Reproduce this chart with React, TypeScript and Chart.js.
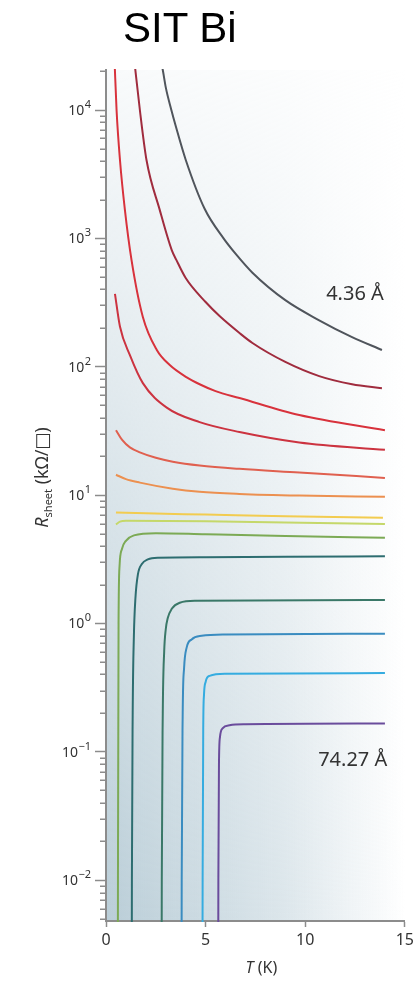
import React, { useEffect, useRef } from 'react';
import { Chart, registerables } from 'chart.js';

Chart.register(...registerables);

// ---- axis ticks ----
const xTickStep = 5;
const xMin = 0;
const xMax = 15;
const yMin = 0.0048;
const yMax = 20500;
const yMajorTicks = [0.01, 0.1, 1, 10, 100, 1000, 10000];
const yMajorBase = '10';
const yMajorExponents = ['−2', '−1', '0', '1', '2', '3', '4'];
const yMinorDecades = [0.001, 0.01, 0.1, 1, 10, 100, 1000, 10000];
const yMinorMultipliers = [2, 3, 4, 5, 6, 7, 8, 9];

// ---- series (T in K, R in kΩ/□) ----
const T1 = [2.7, 2.85, 3.0, 3.28, 3.5, 4.0, 4.95, 5.9, 6.5, 7.35, 9.0, 10.7, 12.35, 13.85];
const R1 = [26000, 20500, 15000, 10000, 7500, 4100, 1700, 1000, 760, 540, 330, 230, 170, 135];

const T2 = [1.4, 1.7, 2.03, 2.7, 3.3, 3.53, 4.0, 5.0, 5.7, 6.7, 7.35, 9.0, 10.7, 12.35, 13.85];
const R2 = [26000, 10000, 4100, 1660, 810, 680, 491, 319, 248, 183, 153, 109, 84.5, 73, 68];

const T3 = [0.43, 0.53, 0.7, 0.95, 1.28, 1.85, 2.55, 3.2, 4.03, 4.7, 5.5, 6.7, 9.7, 14];
const R3 = [24000, 10000, 4100, 1660, 680, 244, 135, 103, 83, 73, 64.5, 57, 42, 32];

const T4 = [0.45, 0.7, 1.2, 1.85, 3.05, 4.7, 6.7, 9.7, 14];
const R4 = [370, 206, 123, 74.5, 48, 37, 31, 25.7, 22.5];

const T5 = [0.5, 0.8, 1.2, 1.7, 2.5, 3.35, 4.7, 6.7, 9.7, 14];
const R5 = [32, 27, 23.5, 21.5, 19.5, 18.2, 17, 16, 15, 13.6];

const T6 = [0.5, 1.0, 1.7, 3.35, 4.7, 6.7, 9.7, 14];
const R6 = [14.4, 13.3, 12.5, 11.2, 10.6, 10.2, 9.9, 9.7];

const T7 = [0.5, 2, 5, 9, 13.9];
const R7 = [7.3, 7.2, 7.05, 6.85, 6.65];

const T8 = [0.5, 0.7, 1.0, 5, 9, 14];
const R8 = [5.9, 6.2, 6.3, 6.25, 6.1, 5.95];

const T9 = [0.58, 0.6, 0.63, 0.68, 0.8, 1.0, 1.4, 2.5, 5, 9, 14];
const R9 = [0.0001, 0.01, 1, 2.8, 3.8, 4.4, 4.85, 5.05, 4.95, 4.8, 4.64];

const T10 = [1.28, 1.3, 1.34, 1.4, 1.48, 1.6, 1.8, 2.1, 2.6, 5, 9, 14];
const R10 = [0.0001, 0.01, 0.2, 0.8, 1.6, 2.4, 2.9, 3.15, 3.25, 3.28, 3.3, 3.34];

const T11 = [2.78, 2.8, 2.85, 2.92, 3.0, 3.1, 3.3, 3.7, 4.5, 14];
const R11 = [0.0001, 0.01, 0.2, 0.6, 0.9, 1.1, 1.3, 1.45, 1.5, 1.52];

const T12 = [3.78, 3.8, 3.85, 3.92, 4.05, 4.3, 4.8, 6, 14];
const R12 = [0.0001, 0.01, 0.2, 0.45, 0.65, 0.75, 0.8, 0.82, 0.83];

const T13 = [4.83, 4.85, 4.88, 4.92, 5.0, 5.2, 6, 14];
const R13 = [0.0001, 0.01, 0.15, 0.28, 0.35, 0.39, 0.405, 0.41];

const T14 = [5.62, 5.64, 5.67, 5.72, 5.85, 6.2, 7, 14];
const R14 = [0.0001, 0.01, 0.08, 0.13, 0.152, 0.161, 0.164, 0.166];

const seriesT = [T1, T2, T3, T4, T5, T6, T7, T8, T9, T10, T11, T12, T13, T14];
const seriesR = [R1, R2, R3, R4, R5, R6, R7, R8, R9, R10, R11, R12, R13, R14];
const seriesColors = [
  '#50555c', '#a02c3e', '#d8323c', '#cc3340', '#e0604f', '#ec9050', '#f2cc50',
  '#c5d86a', '#7caa55', '#2d6d70', '#3a7868', '#3a8cc0', '#35ace0', '#6a4c9c',
];

// thickness labels
const annoTexts = ['4.36 Å', '74.27 Å'];
const annoT = [11.05, 10.65];
const annoR = [330, 0.0769];

const FONT = '"Noto Sans", "DejaVu Sans", sans-serif';

const isMajor = (v: number) =>
  yMajorTicks.some((m) => Math.abs(Math.log10(v) - Math.log10(m)) < 1e-6);

const bgPlugin = {
  id: 'bgGradient',
  beforeDraw(chart: any) {
    const { ctx, chartArea } = chart;
    const { left, top, right, bottom } = chartArea;
    ctx.save();
    const g = ctx.createLinearGradient(left, 0, right, 0);
    g.addColorStop(0, 'rgba(150,180,195,0.66)');
    g.addColorStop(0.6, 'rgba(150,180,195,0.33)');
    g.addColorStop(1, 'rgba(150,180,195,0)');
    ctx.fillStyle = g;
    ctx.fillRect(left, top, right - left, bottom - top);
    const v = ctx.createLinearGradient(0, top, 0, bottom);
    v.addColorStop(0, 'rgba(255,255,255,0.9)');
    v.addColorStop(0.5, 'rgba(255,255,255,0.45)');
    v.addColorStop(1, 'rgba(255,255,255,0)');
    ctx.fillStyle = v;
    ctx.fillRect(left, top, right - left, bottom - top);
    ctx.restore();
  },
};

const decorPlugin = {
  id: 'decor',
  afterDraw(chart: any) {
    const { ctx, chartArea } = chart;
    const xs = chart.scales.x;
    const ys = chart.scales.y;
    ctx.save();
    // minor y ticks
    ctx.strokeStyle = '#8c8c8c';
    ctx.lineWidth = 1.5;
    yMinorDecades.forEach((d) => {
      yMinorMultipliers.forEach((m) => {
        const v = d * m;
        if (v < yMin || v > yMax) return;
        const y = Math.round(ys.getPixelForValue(v)) + 0.25;
        ctx.beginPath();
        ctx.moveTo(chartArea.left - 6, y);
        ctx.lineTo(chartArea.left, y);
        ctx.stroke();
      });
    });

    // y tick labels: 10 with superscript exponent
    ctx.fillStyle = '#333';
    ctx.textBaseline = 'alphabetic';
    ctx.textAlign = 'left';
    const labelRight = chartArea.left - 15;
    yMajorTicks.forEach((m, i) => {
      if (m < yMin || m > yMax) return;
      const y = ys.getPixelForValue(m);
      ctx.font = `11px ${FONT}`;
      const we = ctx.measureText(yMajorExponents[i]).width;
      ctx.font = `14px ${FONT}`;
      const wb = ctx.measureText(yMajorBase).width;
      const xb = labelRight - we - wb - 0.5;
      ctx.fillText(yMajorBase, xb, y + 5);
      ctx.font = `11px ${FONT}`;
      ctx.fillText(yMajorExponents[i], xb + wb + 0.5, y - 2);
    });

    // annotations
    ctx.fillStyle = '#333';
    ctx.font = `20px ${FONT}`;
    annoTexts.forEach((t, i) => {
      ctx.fillText(t, xs.getPixelForValue(annoT[i]), ys.getPixelForValue(annoR[i]));
    });

    // x axis title: T (K)
    const cx = (chartArea.left + chartArea.right) / 2 + 6;
    ctx.font = `italic 16px ${FONT}`;
    const wT = ctx.measureText('T').width;
    ctx.font = `16px ${FONT}`;
    const wK = ctx.measureText(' (K)').width;
    const x0 = cx - (wT + wK) / 2;
    const by = chartArea.bottom + 52;
    ctx.font = `italic 16px ${FONT}`;
    ctx.fillText('T', x0, by);
    ctx.font = `16px ${FONT}`;
    ctx.fillText(' (K)', x0 + wT, by);

    // y axis title: R_sheet (kΩ/□)
    const cy = (chartArea.top + chartArea.bottom) / 2 - 18;
    ctx.translate(48, cy);
    ctx.rotate(-Math.PI / 2);
    const parts = [
      { t: 'R', f: `italic 18px ${FONT}`, dy: 0 },
      { t: 'sheet', f: `11px ${FONT}`, dy: 4 },
      { t: ' (kΩ/□)', f: `18px ${FONT}`, dy: 0 },
    ];
    let total = 0;
    const widths = parts.map((p) => {
      ctx.font = p.f;
      const w = ctx.measureText(p.t).width;
      total += w;
      return w;
    });
    let px = -total / 2;
    parts.forEach((p, i) => {
      ctx.font = p.f;
      ctx.fillText(p.t, px, p.dy);
      px += widths[i];
    });
    ctx.restore();
  },
};

export default function App() {
  const ref = useRef<HTMLCanvasElement>(null);

  useEffect(() => {
    if (!ref.current) return;
    const datasets = seriesT.map((ts, i) => ({
      label: `curve ${i + 1}`,
      data: ts.map((t, j) => ({ x: t, y: seriesR[i][j] })),
      borderColor: seriesColors[i],
      backgroundColor: seriesColors[i],
      borderWidth: 2,
      pointRadius: 0,
      fill: false,
      cubicInterpolationMode: 'monotone' as const,
      clip: 1,
    }));

    const chart = new Chart(ref.current, {
      type: 'line',
      data: { datasets },
      plugins: [bgPlugin, decorPlugin],
      options: {
        animation: false,
        responsive: false,
        devicePixelRatio: 1,
        layout: { padding: { top: 70, right: 12, left: 0, bottom: 0 } },
        plugins: {
          legend: { display: false },
          tooltip: { enabled: false },
          title: { display: false },
        },
        scales: {
          x: {
            type: 'linear',
            min: xMin,
            max: xMax,
            ticks: {
              stepSize: xTickStep,
              color: '#333',
              font: { family: FONT, size: 16 },
              padding: 4,
            },
            grid: {
              drawOnChartArea: false,
              drawTicks: true,
              tickLength: 6,
              tickColor: '#8c8c8c',
              tickWidth: 1.5,
            },
            border: { display: true, color: '#8c8c8c', width: 2 },
            afterFit: (scale: any) => {
              scale.height = 65;
            },
          },
          y: {
            type: 'logarithmic',
            min: yMin,
            max: yMax,
            afterBuildTicks: (scale: any) => {
              const vals: number[] = [];
              yMinorDecades.forEach((d) => {
                const major = yMajorTicks.find((m) => Math.abs(m - d) < d * 1e-9);
                if (major !== undefined) vals.push(major);
                yMinorMultipliers.forEach((m) => vals.push(d * m));
              });
              scale.ticks = vals
                .filter((v) => v >= yMin && v <= yMax)
                .sort((a, b) => a - b)
                .map((v) => ({ value: v, major: isMajor(v) }));
            },
            ticks: {
              display: false,
              autoSkip: false,
            },
            grid: {
              drawOnChartArea: false,
              drawTicks: true,
              tickLength: 11,
              tickWidth: 1.5,
              tickColor: (ctx: any) =>
                ctx.tick && isMajor(ctx.tick.value) ? '#8c8c8c' : 'rgba(0,0,0,0)',
            },
            border: { display: true, color: '#8c8c8c', width: 2 },
            afterFit: (scale: any) => {
              scale.width = 106;
            },
          },
        },
      },
    });
    return () => chart.destroy();
  }, []);

  return (
    <div
      style={{
        position: 'absolute',
        left: 0,
        top: 0,
        width: 418,
        height: 986,
        background: '#ffffff',
        overflow: 'hidden',
      }}
    >
      <canvas
        ref={ref}
        width={418}
        height={986}
        style={{ display: 'block', width: 418, height: 986 }}
      />
      <div
        style={{
          position: 'absolute',
          left: 123,
          top: 7,
          font: '42px "Liberation Sans", Arial, sans-serif',
          lineHeight: '42px',
          color: '#000',
          whiteSpace: 'nowrap',
        }}
      >
        SIT Bi
      </div>
    </div>
  );
}
